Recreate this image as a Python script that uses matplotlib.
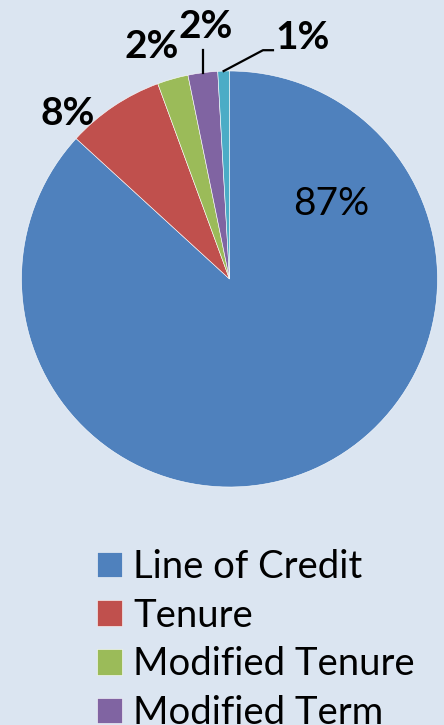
import matplotlib.pyplot as plt
import numpy as np

# payment plan shares (percent)
plans = ['Line of Credit', 'Tenure', 'Modified Tenure', 'Modified Term', 'Term']
shares = [86.8, 7.6, 2.4, 2.3, 0.9]
colors = ['#4f81bd', '#c0504d', '#9bbb59', '#8064a2', '#4bacc6']

bg = '#dbe5f1'
font = 'Lato'

fig = plt.figure(figsize=(4.44, 7.25), dpi=100, facecolor=bg)
# square axes, pie radius = 208 px, centre at (229.5, 279) from the top
ax = fig.add_axes([21.5 / 444, (725 - 279 - 208) / 725, 416 / 444, 416 / 725])
ax.set_facecolor(bg)

wedges, _ = ax.pie(shares, colors=colors, startangle=90, counterclock=False,
                   radius=1, wedgeprops=dict(edgecolor='white', linewidth=0.4))
ax.set_xlim(-1, 1)
ax.set_ylim(-1, 1)
ax.set_aspect('equal')
ax.axis('off')

# label positions in radius units (Excel-style placement)
label_pos = [(0.49, 0.36), (-0.78, 0.795), (-0.373, 1.12), (-0.113, 1.212), (0.349, 1.159)]
for i, (w, p) in enumerate(zip(wedges, label_pos)):
    txt = '%.0f%%' % shares[i]
    ax.text(p[0], p[1], txt, ha='center', va='center', fontsize=28,
            family=font, fontweight='normal' if i == 0 else 'bold',
            color='black', clip_on=False)

# leader lines for the two thinnest slices
for i in (3, 4):
    w = wedges[i]
    mid = np.deg2rad((w.theta1 + w.theta2) / 2)
    x0, y0 = np.cos(mid), np.sin(mid)
    if i == 3:
        xs, ys = [x0, x0], [y0, 1.10]
    else:
        xs, ys = [x0, 0.161, 0.209], [y0, 1.10, 1.10]
    ax.plot(xs, ys, color='black', lw=1.6, clip_on=False)

# only the first four legend rows fit inside the picture
leg = fig.legend(wedges[:4], plans[:4], loc='upper left', bbox_to_anchor=(97 / 444, 1 - 549 / 725),
                 frameon=False, prop={'family': font, 'size': 27.5},
                 handlelength=0.65, handleheight=0.65, handletextpad=0.3,
                 labelspacing=0.33, borderpad=0, borderaxespad=0)

fig.savefig('out.png', dpi=100, facecolor=bg)
